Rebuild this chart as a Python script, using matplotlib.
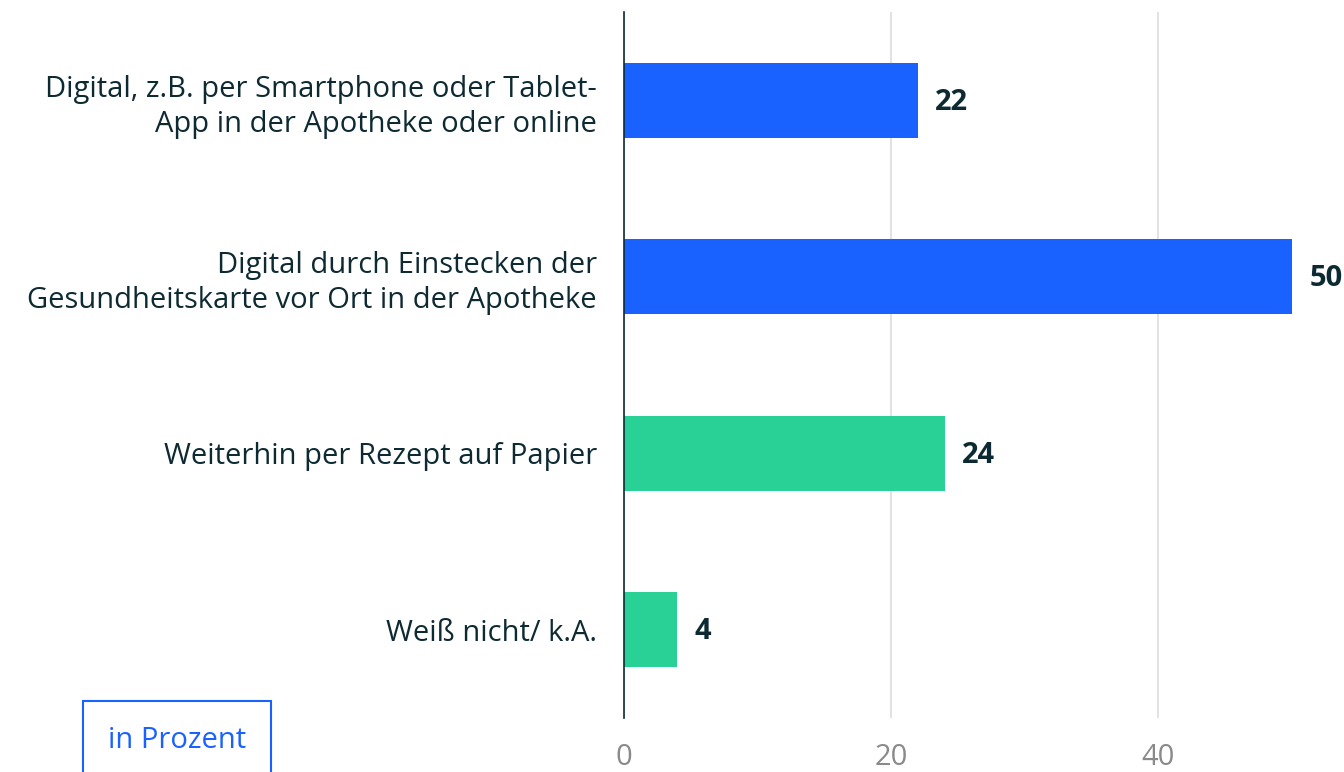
import matplotlib.pyplot as plt
from matplotlib.patches import Rectangle

categories = [
    'Digital, z.B. per Smartphone oder Tablet-\nApp in der Apotheke oder online',
    'Digital durch Einstecken der\nGesundheitskarte vor Ort in der Apotheke',
    'Weiterhin per Rezept auf Papier',
    'Weiß nicht/ k.A.',
]
values = [22, 50, 24, 4]
colors = ['#1a62ff', '#1a62ff', '#2ad196', '#2ad196']
xticks = [0, 20, 40]

text_col = '#0d2a32'
plt.rcParams['font.family'] = ['Open Sans', 'DejaVu Sans']

fig = plt.figure(figsize=(13.44, 7.72), dpi=100)
ax = fig.add_axes([624 / 1344, 54 / 772, 668 / 1344, 706 / 772])

y = list(range(len(categories)))
ax.barh(y, values, height=0.425, color=colors, zorder=3)
for yi, v in zip(y, values):
    ax.text(v + 1.3, yi + 0.01, str(v), va='center', ha='left', fontsize=21,
            fontweight='bold', color=text_col)

ax.set_xlim(0, 50)
ax.set_ylim(3.5, -0.5)
ax.set_yticks(y)
ax.set_yticklabels(categories, fontsize=21, color=text_col, linespacing=1.28)
ax.set_xticks(xticks)
ax.set_xticklabels([str(t) for t in xticks], fontsize=21, color='#8a8a8a')
ax.tick_params(axis='y', length=0, pad=19.5)
ax.tick_params(axis='x', length=0, pad=18)
for lbl in ax.get_yticklabels():
    lbl.set_horizontalalignment('right')
    lbl.set_multialignment('right')

ax.grid(axis='x', color='#dddddd', linewidth=1.2, zorder=0)
for s in ['top', 'right', 'bottom']:
    ax.spines[s].set_visible(False)
ax.spines['left'].set_color(text_col)
ax.spines['left'].set_linewidth(1.2)
ax.spines['left'].set_zorder(4)

# "in Prozent" box
fig.patches.append(Rectangle((83 / 1344, -0.01), 188 / 1344, 71 / 772 + 0.01,
                             transform=fig.transFigure, fill=False,
                             edgecolor='#1a62ff', linewidth=1.5))
fig.text(177 / 1344, 1 - 741 / 772, 'in Prozent', ha='center', va='center',
         fontsize=21, color='#1a62ff')

plt.savefig('out.png', dpi=100)
